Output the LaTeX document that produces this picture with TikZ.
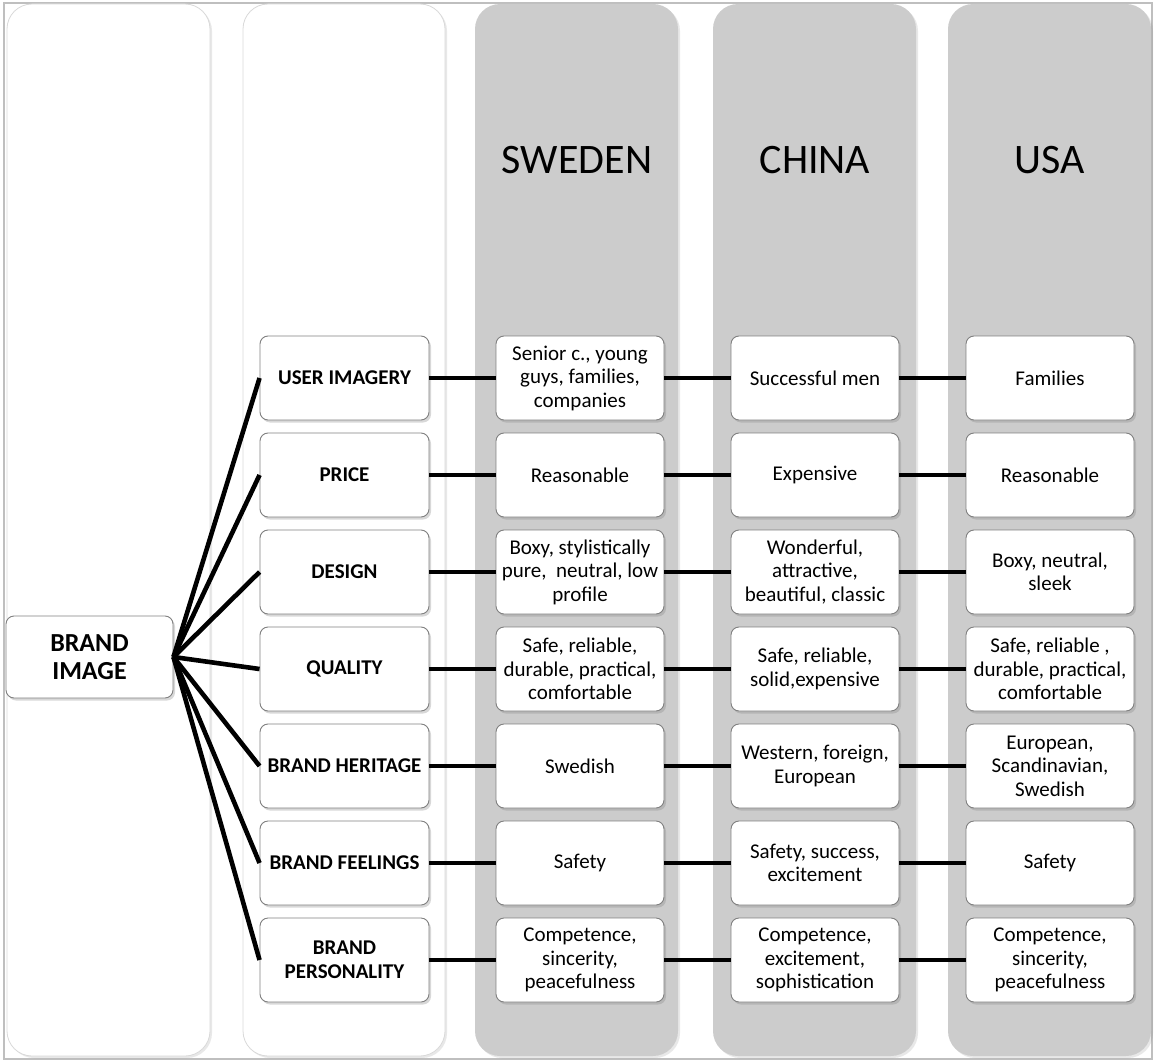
\documentclass[tikz,border=0pt]{standalone}
\usepackage{fontspec}
\setmainfont{Carlito}
\usetikzlibrary{shadows}
\begin{document}
\begin{tikzpicture}[x=1pt,y=-1pt,
  colbox/.style={rounded corners=25pt, line width=0.8pt},
  whitecol/.style={colbox, fill=white, draw=black!15,
     drop shadow={opacity=0.18, shadow xshift=2pt, shadow yshift=-2pt}},
  graycol/.style={colbox, fill=black!20, draw=none,
     drop shadow={opacity=0.18, shadow xshift=2pt, shadow yshift=-2pt}},
  cell/.style={draw=black!50, line width=0.9pt, fill=white, rounded corners=8pt,
     minimum width=168pt, minimum height=84pt, align=center, inner sep=1pt,
     font=\fontsize{21}{23.5}\selectfont,
     drop shadow={opacity=0.3, shadow xshift=2pt, shadow yshift=-2.5pt}},
  attr/.style={cell, minimum width=169pt, font=\fontsize{21}{23.5}\selectfont\bfseries},
  header/.style={font=\fontsize{42}{48}\selectfont, anchor=base},
  link/.style={line width=4.6pt, black}
]
\useasboundingbox (0,0) rectangle (1154,1062);
\draw[black!25, line width=1.5pt] (4,3) rectangle (1152,1059);

% columns
\draw[whitecol] (7,4) rectangle (210,1056);
\draw[whitecol] (243,4) rectangle (445,1056);
\draw[graycol] (475,4) rectangle (678,1056);
\draw[graycol] (713,4) rectangle (916,1056);
\draw[graycol] (948,4) rectangle (1151,1056);

% headers
\node[header] (hsw) at (577,174) {SWEDEN};
\node[header] (hch) at (815,174) {CHINA};
\node[header] (hus) at (1050,174) {USA};

% brand image
\node[cell, minimum width=167pt, minimum height=82pt,
      font=\fontsize{26}{28.5}\selectfont\bfseries] (bi) at (89.5,657) {BRAND\\IMAGE};

% attribute boxes
\node[attr] (a1) at (344.5,378) {USER IMAGERY};
\node[attr] (a2) at (344.5,475) {PRICE};
\node[attr] (a3) at (344.5,572) {DESIGN};
\node[attr] (a4) at (344.5,669) {QUALITY};
\node[attr] (a5) at (344.5,766) {BRAND HERITAGE};
\node[attr] (a6) at (344.5,863) {BRAND FEELINGS};
\node[attr] (a7) at (344.5,960) {BRAND\\PERSONALITY};

% Sweden
\node[cell] (s1) at (580,378) {Senior c., young\\guys, families,\\companies};
\node[cell] (s2) at (580,475) {Reasonable};
\node[cell] (s3) at (580,572) {Boxy, stylistically\\pure,~ neutral, low\\profile};
\node[cell] (s4) at (580,669) {Safe, reliable,\\durable, practical,\\comfortable};
\node[cell] (s5) at (580,766) {Swedish};
\node[cell] (s6) at (580,863) {Safety};
\node[cell] (s7) at (580,960) {Competence,\\sincerity,\\peacefulness};

% China
\node[cell] (c1) at (815,378) {Successful men};
\node[cell] (c2) at (815,475) {Expensive};
\node[cell] (c3) at (815,572) {Wonderful,\\attractive,\\beautiful, classic};
\node[cell] (c4) at (815,669) {Safe, reliable,\\solid,expensive};
\node[cell] (c5) at (815,766) {Western, foreign,\\European};
\node[cell] (c6) at (815,863) {Safety, success,\\excitement};
\node[cell] (c7) at (815,960) {Competence,\\excitement,\\sophistication};

% USA
\node[cell] (u1) at (1050,378) {Families};
\node[cell] (u2) at (1050,475) {Reasonable};
\node[cell] (u3) at (1050,572) {Boxy, neutral,\\sleek};
\node[cell] (u4) at (1050,669) {Safe, reliable ,\\durable, practical,\\comfortable};
\node[cell] (u5) at (1050,766) {European,\\Scandinavian,\\Swedish};
\node[cell] (u6) at (1050,863) {Safety};
\node[cell] (u7) at (1050,960) {Competence,\\sincerity,\\peacefulness};

% connectors
\foreach \i in {1,...,7}{
  \draw[link] (bi.east) -- (a\i.west);
  \draw[link] (a\i.east) -- (s\i.west);
  \draw[link] (s\i.east) -- (c\i.west);
  \draw[link] (c\i.east) -- (u\i.west);
}
\end{tikzpicture}
\end{document}
